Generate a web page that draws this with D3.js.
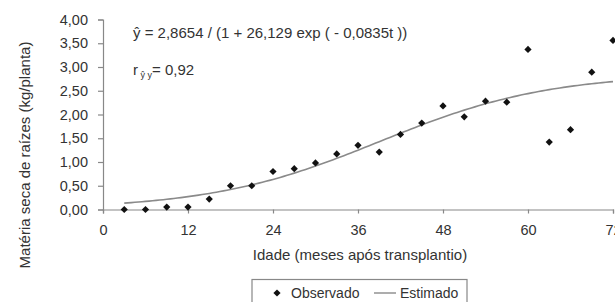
<!DOCTYPE html>
<html>
<head>
<meta charset="utf-8">
<script src="https://cdn.jsdelivr.net/npm/d3@7"></script>
<style>
  body { margin: 0; background: #fff; }
  text { font-family: "Liberation Sans", Arial, sans-serif; fill: #333; }
</style>
</head>
<body>
<svg id="chart" width="615" height="302"></svg>
<script>
// observed data (months after transplant, kg/plant)
var months = [3, 6, 9, 12, 15, 18, 21, 24, 27, 30, 33, 36, 39, 42, 45, 48, 51, 54, 57, 60, 63, 66, 69, 72];
var observado = [0.00, 0.00, 0.05, 0.05, 0.22, 0.50, 0.50, 0.80, 0.86, 0.98, 1.17, 1.35, 1.21, 1.58, 1.82, 2.18, 1.95, 2.28, 2.26, 3.37, 1.42, 1.68, 2.89, 3.56];
var xTicks = [0, 12, 24, 36, 48, 60, 72];
var yTicks = [0, 0.5, 1, 1.5, 2, 2.5, 3, 3.5, 4];

// fitted logistic model
var A = 2.8654, B = 26.129, K = 0.0835;
function estimado(t) { return A / (1 + B * Math.exp(-K * t)); }

var svg = d3.select("#chart");
var fmt = function(d) { return d.toFixed(2).replace(".", ","); };

var x = d3.scaleLinear().domain([0, 72]).range([103, 613]);
var y = d3.scaleLinear().domain([0, 4]).range([209.5, 19.5]);

// y axis
var yAxis = svg.append("g")
    .attr("transform", "translate(" + x(0) + ",0)")
    .call(d3.axisLeft(y).tickValues(yTicks).tickFormat(fmt).tickSize(5).tickPadding(10));
yAxis.selectAll("text").style("font-size", "14.5px");

// x axis
var xAxis = svg.append("g")
    .attr("transform", "translate(0," + y(0) + ")")
    .call(d3.axisBottom(x).tickValues(xTicks).tickSize(4).tickPadding(11));
xAxis.selectAll("text").style("font-size", "14.5px");

svg.selectAll(".domain, .tick line").attr("stroke", "#888").attr("stroke-width", 1.2);

// fitted curve
var curveT = d3.range(3, 72.01, 0.5);
svg.append("path")
    .datum(curveT)
    .attr("fill", "none")
    .attr("stroke", "#8a8a8a")
    .attr("stroke-width", 1.6)
    .attr("d", d3.line().x(function(t) { return x(t); }).y(function(t) { return y(estimado(t)); }));

// observed points (square turned 45deg)
var diamond = d3.symbol().type(d3.symbolSquare).size(26);
svg.append("g").selectAll("path")
    .data(months)
    .enter().append("path")
    .attr("d", diamond)
    .attr("fill", "#111")
    .attr("transform", function(d, i) { return "translate(" + x(d) + "," + y(observado[i]) + ") rotate(45)"; });

// equation
svg.append("text")
    .attr("x", 133).attr("y", 38)
    .style("font-size", "15px")
    .text("ŷ = 2,8654 / (1 + 26,129 exp ( - 0,0835t ))");

var rText = svg.append("text").attr("x", 133).attr("y", 75).style("font-size", "15px");
rText.append("tspan").text("r");
rText.append("tspan").attr("dy", 3).style("font-size", "9px").text(" ŷ y");
rText.append("tspan").attr("dy", -3).text("= 0,92");

// axis titles
svg.append("text")
    .attr("x", 360).attr("y", 260)
    .attr("text-anchor", "middle")
    .style("font-size", "15px")
    .text("Idade (meses após transplantio)");

svg.append("text")
    .attr("transform", "translate(30,155) rotate(-90)")
    .attr("text-anchor", "middle")
    .style("font-size", "15px")
    .text("Matéria seca de raízes (kg/planta)");

// legend
var legend = svg.append("g");
legend.append("rect")
    .attr("x", 252).attr("y", 279.5)
    .attr("width", 215).attr("height", 30)
    .attr("fill", "none").attr("stroke", "#888").attr("stroke-width", 1.2);
legend.append("path")
    .attr("d", diamond)
    .attr("fill", "#111")
    .attr("transform", "translate(277,293) rotate(45)");
legend.append("text")
    .attr("x", 291).attr("y", 298)
    .style("font-size", "14px")
    .text("Observado");
legend.append("line")
    .attr("x1", 374).attr("x2", 396).attr("y1", 293).attr("y2", 293)
    .attr("stroke", "#8a8a8a").attr("stroke-width", 1.4);
legend.append("text")
    .attr("x", 400).attr("y", 298)
    .style("font-size", "14px")
    .text("Estimado");
</script>
</body>
</html>
